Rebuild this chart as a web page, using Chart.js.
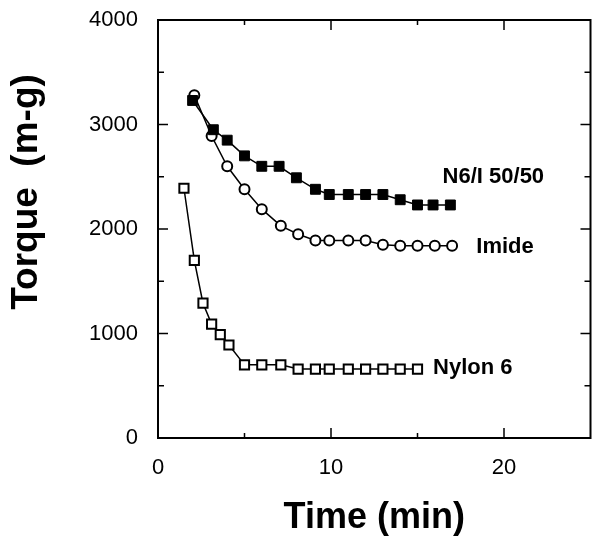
<!DOCTYPE html>
<html>
<head>
<meta charset="utf-8">
<script src="https://cdn.jsdelivr.net/npm/chart.js@4/dist/chart.umd.min.js"></script>
<style>
  html, body { margin: 0; padding: 0; background: #fff; overflow: hidden; }
  #wrap { width: 599px; height: 536px; }
</style>
</head>
<body>
<div id="wrap"><canvas id="torque_chart"></canvas></div>
<script>
// values
const blendTimes = [2, 3.2, 4, 5, 6, 7, 8, 9.1, 9.9, 11, 12, 13, 14, 15, 15.9, 16.9];
const blendTorque = [3230, 2950, 2850, 2700, 2600, 2600, 2490, 2380, 2330, 2330, 2330, 2330, 2280, 2230, 2230, 2230];

const imideTimes = [2.1, 3.1, 4, 5, 6, 7.1, 8.1, 9.1, 9.9, 11, 12, 13, 14, 15, 16, 17];
const imideTorque = [3280, 2890, 2600, 2380, 2190, 2030, 1950, 1890, 1890, 1890, 1890, 1850, 1840, 1840, 1840, 1840];

const nylonTimes = [1.5, 2.1, 2.6, 3.1, 3.6, 4.1, 5, 6, 7.1, 8.1, 9.1, 9.9, 11, 12, 13, 14, 15];
const nylonTorque = [2390, 1700, 1290, 1090, 990, 890, 700, 700, 700, 660, 660, 660, 660, 660, 660, 660, 660];

const seriesLabels = ["N6/I 50/50", "Imide", "Nylon 6"];
// where each series name sits, in data units
const labelSpots = [[16.45, 2500], [18.4, 1830], [15.9, 670]];

const xMajor = [0, 10, 20];
const xMinor = [5, 15];
const yMajor = [0, 1000, 2000, 3000, 4000];
const yMinor = [500, 1500, 2500, 3500];

function toPoints(xs, ys) {
    return xs.map((x, i) => ({ x: x, y: ys[i] }));
}

const frame = {
    id: 'frame',
    afterDatasetsDraw(chart) {
        const ctx = chart.ctx;
        const a = chart.chartArea;
        const xs = chart.scales.x;
        const ys = chart.scales.y;
        ctx.save();
        ctx.strokeStyle = '#000';
        ctx.lineWidth = 2;
        ctx.strokeRect(a.left, a.top, a.right - a.left, a.bottom - a.top);

        ctx.lineWidth = 1.5;
        ctx.beginPath();
        const xt = (v, len) => {
            let p = xs.getPixelForValue(v);
            ctx.moveTo(p, a.bottom); ctx.lineTo(p, a.bottom - len);
            ctx.moveTo(p, a.top); ctx.lineTo(p, a.top + len);
        };
        const yt = (v, len) => {
            let p = ys.getPixelForValue(v);
            ctx.moveTo(a.left, p); ctx.lineTo(a.left + len, p);
            ctx.moveTo(a.right, p); ctx.lineTo(a.right - len, p);
        };
        xMajor.forEach(v => xt(v, 10));
        xMinor.forEach(v => xt(v, 5));
        yMajor.forEach(v => yt(v, 10));
        yMinor.forEach(v => yt(v, 6));
        ctx.stroke();

        // series names
        ctx.fillStyle = '#000';
        ctx.font = 'bold 22px "Liberation Sans", Arial, sans-serif';
        ctx.textAlign = 'left';
        ctx.textBaseline = 'middle';
        seriesLabels.forEach((t, i) => {
            ctx.fillText(t, xs.getPixelForValue(labelSpots[i][0]), ys.getPixelForValue(labelSpots[i][1]));
        });

        // axis titles
        ctx.font = 'bold 36px "Liberation Sans", Arial, sans-serif';
        ctx.textAlign = 'center';
        ctx.fillText('Time (min)', (a.left + a.right) / 2, 518);
        ctx.translate(27, 192);
        ctx.rotate(-Math.PI / 2);
        ctx.font = 'bold 37px "Liberation Sans", Arial, sans-serif';
        ctx.fillText('Torque  (m-g)', 0, 0);
        ctx.restore();
    }
};

const chart = document.getElementById("torque_chart");

new Chart(chart, {
    type: 'line',
    data: {
        datasets: [{
            label: seriesLabels[0],
            data: toPoints(blendTimes, blendTorque),
            borderColor: '#000',
            borderWidth: 1.5,
            pointStyle: 'rect',
            pointRadius: 7,
            pointBackgroundColor: '#000',
            pointBorderColor: '#000',
            pointBorderWidth: 1
        }, {
            label: seriesLabels[1],
            data: toPoints(imideTimes, imideTorque),
            borderColor: '#000',
            borderWidth: 1.5,
            pointStyle: 'circle',
            pointRadius: 5,
            pointBackgroundColor: '#fff',
            pointBorderColor: '#000',
            pointBorderWidth: 2
        }, {
            label: seriesLabels[2],
            data: toPoints(nylonTimes, nylonTorque),
            borderColor: '#000',
            borderWidth: 1.5,
            pointStyle: 'rect',
            pointRadius: 6.5,
            pointBackgroundColor: '#fff',
            pointBorderColor: '#000',
            pointBorderWidth: 2
        }]
    },
    options: {
        responsive: true,
        maintainAspectRatio: false,
        animation: false,
        layout: { padding: { top: 20, right: 0, left: 0, bottom: 0 } },
        scales: {
            x: {
                type: 'linear',
                min: 0,
                max: 25,
                afterFit: s => {
                    s.height = 98;
                    s.paddingLeft = 0;
                    s.paddingRight = 0;
                },
                grid: { display: false, drawTicks: false },
                border: { display: false },
                ticks: {
                    stepSize: 10,
                    padding: 17,
                    color: '#000',
                    font: { family: '"Liberation Sans", Arial, sans-serif', size: 22 },
                    callback: v => (v % 10 === 0 && v <= 20) ? String(v) : ''
                }
            },
            y: {
                min: 0,
                max: 4000,
                afterFit: s => {
                    s.width = 158;
                    s.paddingTop = 0;
                    s.paddingBottom = 0;
                },
                grid: { display: false, drawTicks: false },
                border: { display: false },
                ticks: {
                    stepSize: 1000,
                    padding: 20,
                    color: '#000',
                    font: { family: '"Liberation Sans", Arial, sans-serif', size: 22 },
                    callback: v => String(v)
                }
            }
        },
        plugins: {
            legend: { display: false },
            tooltip: { enabled: false }
        }
    },
    plugins: [frame]
});
</script>
</body>
</html>
